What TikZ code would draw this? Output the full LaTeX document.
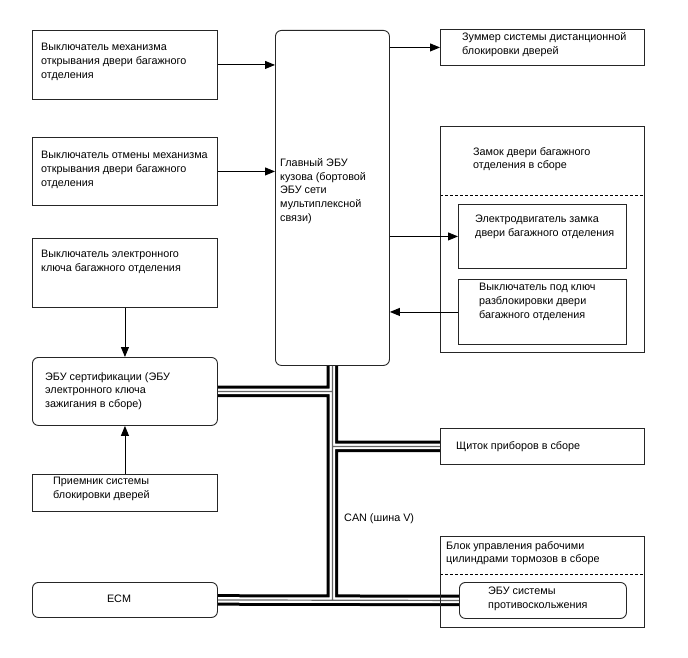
\documentclass[tikz,border=0pt]{standalone}
\usepackage{fontspec}
\setmainfont{Liberation Sans}
\usetikzlibrary{positioning,arrows.meta,calc,backgrounds}

\begin{document}
\begin{tikzpicture}[x=1pt,y=-1pt,
  box/.style={draw=black!85,line width=0.9pt,fill=white,anchor=north west,inner sep=0pt},
  rbox/.style={box,rounded corners=6pt},
  frame/.style={draw=black!85,line width=0.9pt,anchor=north west,inner sep=0pt},
  txt/.style={anchor=north west,inner sep=0pt,align=left,font=\fontsize{10.8}{13.8}\selectfont},
  sig/.style={line width=0.9pt,-{Triangle[length=10pt,width=8pt]}},
  dashsep/.style={line width=0.9pt,dash pattern=on 3pt off 2pt}]
\useasboundingbox (0,0) rectangle (688,658);

% left column
\node[box,minimum width=185pt,minimum height=69pt] (sw1) at (32,30) {};
\node[txt] (sw1t) at (41,43) {Выключатель механизма\\открывания двери багажного\\отделения};
\node[box,minimum width=185pt,minimum height=68pt] (sw2) at (32,137) {};
\node[txt] (sw2t) at (41,151) {Выключатель отмены механизма\\открывания двери багажного\\отделения};
\node[box,minimum width=185pt,minimum height=69pt] (sw3) at (32,238) {};
\node[txt] (sw3t) at (41,250) {Выключатель электронного\\ключа багажного отделения};
\node[rbox,minimum width=185pt,minimum height=68pt] (cert) at (32,357) {};
\node[txt] (certt) at (45,372) {ЭБУ сертификации (ЭБУ\\электронного ключа\\зажигания в сборе)};
\node[box,minimum width=185pt,minimum height=37pt] (rx) at (32,474) {};
\node[txt] (rxt) at (53,477) {Приемник системы\\блокировки дверей};
\node[rbox,minimum width=185pt,minimum height=35pt] (ecm) at (32,582) {};
\node[txt,anchor=center] (ecmt) at (119,599) {ECM};

% body ECU
\node[rbox,minimum width=114pt,minimum height=335pt] (body) at (275,30) {};
\node[txt] (bodyt) at (280,158) {Главный ЭБУ\\кузова (бортовой\\ЭБУ сети\\мультиплексной\\связи)};

% right column
\node[box,minimum width=204pt,minimum height=36pt] (buzzer) at (440,29) {};
\node[txt] (buzzert) at (462,32) {Зуммер системы дистанционной\\блокировки дверей};
\node[frame,minimum width=204pt,minimum height=226pt] (lock) at (440,126) {};
\node[txt] (lockt) at (473,147) {Замок двери багажного\\отделения в сборе};
\coordinate (lockd) at (440,195);
\node[box,minimum width=168pt,minimum height=64pt] (motor) at (458,204) {};
\node[txt] (motort) at (475,215) {Электродвигатель замка\\двери багажного отделения};
\node[box,minimum width=168pt,minimum height=65pt] (key) at (458,279) {};
\node[txt] (keyt) at (479,283) {Выключатель под ключ\\разблокировки двери\\багажного отделения};
\node[box,minimum width=204pt,minimum height=36pt] (cluster) at (440,428) {};
\node[txt] (clustert) at (456,441) {Щиток приборов в сборе};
\node[frame,minimum width=204pt,minimum height=91pt] (brake) at (440,536) {};
\node[txt] (braket) at (446,541) {Блок управления рабочими\\цилиндрами тормозов в сборе};
\coordinate (braked) at (440,574);
\node[rbox,minimum width=167pt,minimum height=36pt] (abs) at (459,582) {};
\node[txt] (abst) at (488,587) {ЭБУ системы\\противоскольжения};

\node[txt] (can) at (344,513) {CAN (шина V)};

% frames and CAN bus behind the boxes
\begin{scope}[on background layer]
\draw[dashsep] (lockd) -- (lockd -| lock.east);
\draw[dashsep] (braked) -- (braked -| brake.east);
\foreach \w/\c in {11.5/black,5.5/white,1.2/black!60} {
  \draw[line width=\w pt,draw=\c] (body.south) -- (body.south |- ecm.east)
    (cert.east) -- (cert.east -| body.south)
    (body.south |- cluster.west) -- (cluster.west)
    (ecm.east) -- (abs.west);
}
\end{scope}

% signal lines
\draw[sig] (sw1.east) -- (sw1.east -| body.west);
\draw[sig] (sw2.east) -- (sw2.east -| body.west);
\draw[sig] (sw3.south) -- (cert.north);
\draw[sig] (rx.north) -- (cert.south);
\draw[sig] (body.east |- buzzer.west) -- (buzzer.west);
\draw[sig] (body.east |- motor.west) -- (motor.west);
\draw[sig] (key.west) -- (key.west -| body.east);
\end{tikzpicture}
\end{document}
